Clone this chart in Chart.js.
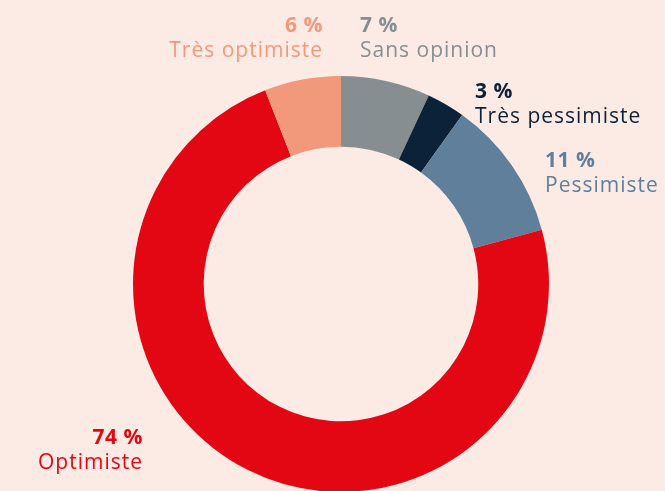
<!DOCTYPE html>
<html>
<head>
<meta charset="utf-8">
<script src="https://cdn.jsdelivr.net/npm/chart.js@4"></script>
<style>
  html, body { margin: 0; padding: 0; background: #fcebe5; overflow: hidden; }
  #wrap { width: 665px; height: 491px; overflow: hidden; }
</style>
</head>
<body>
<div id="wrap"><canvas id="donut" width="665" height="500"></canvas></div>
<script>
// Données du graphique (sens horaire depuis midi)
const categories = ['Sans opinion', 'Très pessimiste', 'Pessimiste', 'Optimiste', 'Très optimiste'];
const values = [7, 3, 11, 74, 6];
const colors = ['#878e91', '#0c2239', '#5f7f9b', '#e30613', '#f2997b'];

// position des étiquettes : x, y (ligne du pourcentage), alignement
const labelPos = [
  { x: 360, y: 32, align: 'left' },
  { x: 475, y: 98, align: 'left' },
  { x: 545, y: 167, align: 'left' },
  { x: 143, y: 444, align: 'right' },
  { x: 323, y: 32, align: 'right' }
];

const fontFamily = '"Open Sans", sans-serif';

const labelPlugin = {
  id: 'labels',
  afterDraw(chart) {
    const ctx = chart.ctx;
    ctx.save();
    ctx.textBaseline = 'alphabetic';
    categories.forEach(function(cat, i) {
      const p = labelPos[i];
      ctx.fillStyle = colors[i];
      ctx.textAlign = p.align;
      ctx.letterSpacing = '0.5px';
      ctx.font = 'bold 21px ' + fontFamily;
      ctx.fillText(values[i] + ' %', p.x, p.y);
      ctx.letterSpacing = '1px';
      ctx.font = '21px ' + fontFamily;
      ctx.fillText(cat, p.x, p.y + 25);
    });
    ctx.restore();
  }
};

new Chart(document.getElementById('donut').getContext('2d'), {
  type: 'doughnut',
  data: {
    labels: categories,
    datasets: [{
      data: values,
      backgroundColor: colors,
      borderWidth: 0,
      hoverOffset: 0
    }]
  },
  options: {
    responsive: false,
    animation: false,
    cutout: '66%',
    rotation: 0,
    events: [],
    layout: { padding: { top: 76, bottom: 8, left: 133, right: 116 } },
    plugins: {
      legend: { display: false },
      tooltip: { enabled: false }
    }
  },
  plugins: [labelPlugin]
});
</script>
</body>
</html>
